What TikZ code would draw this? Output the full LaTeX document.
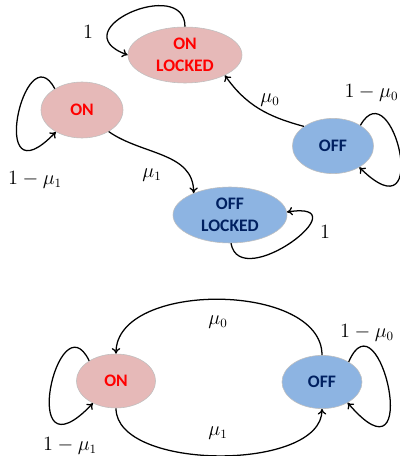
\documentclass[tikz,border=0pt]{standalone}
\usepackage{fontspec}
\setsansfont{Carlito}
\usetikzlibrary{shapes.geometric,arrows.meta}

\definecolor{onfill}{HTML}{E6B9B8}
\definecolor{offfill}{HTML}{8DB4E2}
\definecolor{offtext}{HTML}{002060}

\tikzset{
stnode/.style={ellipse,draw=black!25,line width=.4pt,inner sep=0pt,align=center,
  font=\sffamily\bfseries\fontsize{12.5}{15.5}\selectfont},
onst/.style={stnode,fill=onfill,text=red},
offst/.style={stnode,fill=offfill,text=offtext},
trans/.style={line width=.9pt,-{To[length=4pt,width=6pt]}},
lbl/.style={inner sep=1pt,font=\fontsize{13.5}{16}\selectfont}
}

\begin{document}
\begin{tikzpicture}[x=.025cm,y=.025cm]
\useasboundingbox (0,0) rectangle (400,456);

\node[onst,minimum width=2.85cm,minimum height=1.4cm] (onl) at (185,401) {ON\\LOCKED};
\node[onst,minimum width=2.05cm,minimum height=1.4cm] (on) at (82,346) {ON};
\node[offst,minimum width=2.03cm,minimum height=1.38cm] (off) at (333,310) {OFF};
\node[offst,minimum width=2.85cm,minimum height=1.4cm] (offl) at (230,241) {OFF\\LOCKED};

\draw[trans] (onl.north) .. controls +(0,51) and +(-68,25) .. (onl.west);
\draw[trans] (on.142) .. controls +(-30,57) and +(-70,-73) .. (on.-140);
\draw[trans] (off.37) .. controls +(32,57) and +(74,-73) .. (off.-39);
\draw[trans] (offl.-88) .. controls +(9,-51) and +(77,12) .. (offl.3);
\draw[trans] (on.-39) to[out=-35,in=90] (offl.149);
\draw[trans] (off.146) to[out=165,in=-55] (onl.-27);

\node[lbl] (l1) at (88,424) {$1$};
\node[lbl] (l2) at (35,276) {$1-\mu_1$};
\node[lbl,anchor=east] (l3) at (400,363) {$1-\mu_0$};
\node[lbl] (l4) at (270,356) {$\mu_0$};
\node[lbl] (l5) at (152,281) {$\mu_1$};
\node[lbl] (l6) at (325,224) {$1$};

\node[onst,minimum width=1.98cm,minimum height=1.35cm] (on2) at (116,75) {ON};
\node[offst,minimum width=2cm,minimum height=1.33cm] (off2) at (322,74) {OFF};

\draw[trans] (off2.north) to[out=90,in=90,looseness=.91] (on2.north);
\draw[trans] (on2.south) to[out=-90,in=-90,looseness=.78] (off2.south);
\draw[trans] (on2.143) .. controls +(-31,64) and +(-77,-81) .. (on2.-136);
\draw[trans] (off2.37) .. controls +(31,72) and +(77,-90) .. (off2.-39);

\node[lbl] (l7) at (218,134) {$\mu_0$};
\node[lbl] (l8) at (218,23) {$\mu_1$};
\node[lbl] (l9) at (367,123) {$1-\mu_0$};
\node[lbl] (l10) at (70,10) {$1-\mu_1$};

\end{tikzpicture}
\end{document}
